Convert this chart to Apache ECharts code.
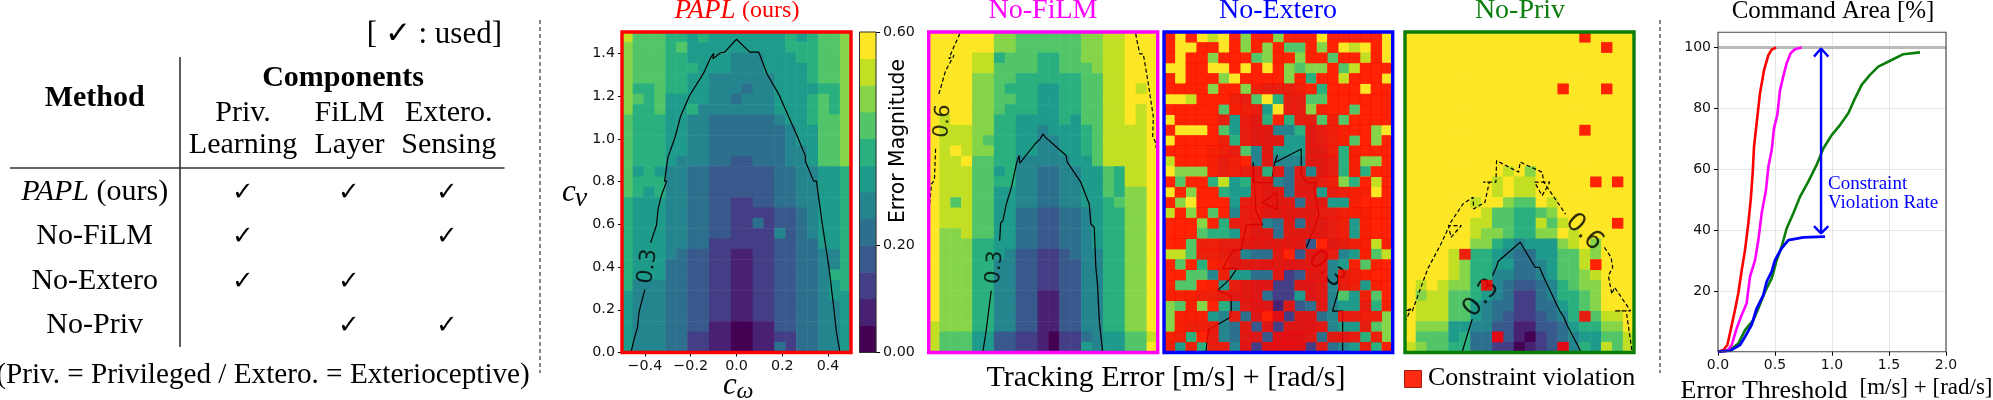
<!DOCTYPE html>
<html><head><meta charset="utf-8">
<script src="https://cdn.jsdelivr.net/npm/echarts@6/dist/echarts.min.js"></script>
<style>html,body{margin:0;padding:0;background:#fff}#c{width:1993px;height:400px}</style>
</head><body><div id="c"></div>
<script>
// Table content
const methodRows = ['PAPL', 'No-FiLM', 'No-Extero', 'No-Priv'];
const usedPriv  = [1, 1, 1, 0];
const usedFilm  = [1, 0, 1, 1];
const usedExt   = [1, 1, 0, 1];
// Colour levels of the 12-step colour bar
const levelColors = ['#440154','#482173','#433e85','#38598c','#2d708e','#25858e','#1e9b8a','#2ab07f','#52c569','#86d549','#c2df23','#fde725'];
// Heat map rows, top row first. 0-9,a,b = colour level; A..L = same level (A=0 .. L=11) with a constraint violation.
const papl = [
'a 8 8 8 7 7 6 7 6 6 6 6 6 6 6 7 6 7 8 8 9',
'9 8 8 8 7 8 6 6 6 6 6 6 6 6 6 7 7 7 8 8 9',
'9 8 8 8 7 7 6 6 6 6 5 5 5 6 6 6 7 7 8 8 9',
'9 8 8 8 7 7 7 6 6 6 5 5 5 6 6 6 6 7 8 8 9',
'9 8 8 8 7 7 6 6 5 5 5 5 5 5 6 6 6 7 8 8 9',
'9 7 7 8 7 7 6 6 5 5 5 4 5 5 6 6 6 6 7 7 9',
'9 8 7 8 6 6 6 6 5 5 4 5 5 5 6 6 6 7 8 7 9',
'9 7 7 8 6 6 7 5 5 5 5 5 5 5 6 6 6 7 8 7 9',
'8 7 7 7 6 6 5 5 4 4 4 4 4 4 5 6 6 7 8 8 9',
'8 7 7 7 6 6 5 5 4 4 4 4 4 4 4 5 6 6 8 8 9',
'8 7 7 7 6 6 5 5 4 4 4 4 4 4 4 5 6 6 8 8 9',
'8 7 7 7 6 6 5 5 4 4 4 4 4 4 4 5 5 6 8 8 9',
'8 7 7 7 6 5 5 5 4 4 3 3 4 4 4 5 5 6 8 8 9',
'8 6 7 6 5 5 4 4 3 3 3 3 3 3 4 4 5 5 6 6 7',
'8 7 7 7 5 5 4 4 3 3 3 3 3 3 4 4 5 5 6 6 7',
'8 7 6 7 5 5 4 4 3 3 3 3 3 3 4 4 5 5 6 6 7',
'7 6 6 6 5 5 4 4 3 3 2 2 3 3 4 4 5 5 6 6 7',
'7 6 6 6 5 5 4 4 3 3 2 2 2 2 3 3 4 5 6 6 7',
'7 6 6 6 5 5 4 4 3 3 2 2 4 2 3 3 4 5 6 6 7',
'7 6 6 6 5 5 4 4 3 3 2 2 2 2 5 3 4 5 6 6 7',
'7 6 6 6 5 5 4 4 2 2 2 2 2 2 3 3 4 4 6 6 7',
'7 6 6 6 5 4 3 3 2 2 1 1 2 2 3 3 4 4 5 5 7',
'7 6 6 6 4 4 3 3 2 2 1 1 2 2 3 3 4 4 5 5 7',
'7 6 6 6 4 4 3 3 2 2 1 1 2 2 3 3 4 4 5 7 7',
'7 5 5 5 4 4 3 3 2 2 1 1 2 2 3 3 4 4 5 6 7',
'6 5 5 5 4 4 3 3 2 2 1 1 2 2 3 3 4 4 5 6 6',
'6 5 5 5 4 4 3 3 2 2 1 1 2 2 3 3 4 4 5 5 6',
'6 5 5 5 4 4 3 3 2 2 1 1 2 2 3 3 4 4 5 5 6',
'6 5 5 5 4 4 3 3 1 1 0 0 1 1 3 3 4 4 5 5 6',
'6 5 5 5 4 4 2 2 1 1 0 0 1 1 2 2 4 4 5 5 6',
'6 5 5 5 4 4 2 2 1 1 0 0 1 1 4 2 4 4 5 5 6'];
const noFilm = [
'b b b b b b 9 9 8 8 8 8 8 8 9 9 a a b b b',
'b b b b b b 9 9 8 8 8 8 8 8 9 9 a a b b b',
'b b b b a a 7 8 8 8 7 7 8 8 9 9 a a b b b',
'b b b b a a 8 8 8 8 7 7 8 8 8 9 a a b b b',
'b b b b 9 9 8 8 7 7 7 7 7 7 8 8 a a b b b',
'b b b b 9 9 8 7 7 7 6 6 7 7 8 8 a a b a b',
'b b b b 9 9 8 8 7 7 6 6 7 7 8 8 a a b b b',
'b b b b 9 9 8 7 7 7 6 6 7 7 8 8 a a b a b',
'b a b b 9 9 7 7 6 6 6 6 7 6 8 8 a a b a b',
'b a a a 9 9 7 7 6 6 5 6 6 6 7 8 a a a a b',
'b a a a 9 8 7 7 6 6 5 5 6 6 7 8 a a a a b',
'b a b a 9 9 7 7 6 6 5 5 6 6 7 8 a a a a b',
'b a a b 8 8 7 7 5 5 5 5 5 6 6 8 a a a a b',
'b a a a 8 8 6 7 5 5 4 4 5 5 6 6 8 7 a a b',
'b a a a 8 8 7 7 5 5 4 4 5 5 6 6 8 7 a a b',
'b a a a 8 8 6 6 5 5 4 4 5 5 6 6 8 7 9 9 b',
'b a 8 a 8 8 6 6 5 5 4 4 5 5 6 6 7 8 9 9 b',
'b a a a 8 8 6 6 4 4 3 3 4 4 5 6 7 7 9 9 b',
'b a a a 8 8 6 6 4 4 3 3 4 4 5 6 7 7 9 9 b',
'b 9 9 a 8 8 6 6 4 4 3 3 4 4 5 6 7 7 9 9 b',
'b 9 9 9 7 7 6 6 4 4 3 3 4 4 5 6 7 7 9 9 b',
'b 9 9 9 7 7 6 5 3 3 2 2 3 4 5 5 7 7 9 9 b',
'b 9 9 9 7 7 5 5 3 3 2 2 3 3 5 5 7 7 9 9 b',
'b 9 9 9 7 7 5 5 3 3 2 2 3 3 5 5 7 7 9 9 b',
'b 9 9 9 7 7 5 5 3 3 2 2 3 3 5 5 7 7 9 9 b',
'b 9 9 9 7 7 5 5 3 3 1 1 3 3 5 5 7 7 9 9 b',
'b 9 9 9 7 7 5 5 3 3 1 1 3 3 5 5 7 7 9 9 b',
'b 9 9 9 7 7 5 5 3 3 1 1 3 3 5 5 7 7 9 9 b',
'a 9 9 9 7 7 5 5 3 3 1 1 3 3 5 5 7 7 9 9 b',
'a 8 8 8 6 6 3 3 2 2 1 0 2 2 4 5 6 6 8 8 a',
'a 8 8 8 6 6 3 3 2 2 1 0 2 2 6 5 6 6 8 8 b'];
const noExtero = [
'L b L b a b L 9 L L 9 L L L b L L L L L b',
'L b b L L b L 9 L 9 L 8 8 L 9 L b a b L b',
'L b L L 9 L L L 8 9 L L 9 L L 8 L L a L b',
'b b L L b b L b L b L 9 8 9 9 L 8 a L L L',
'L b L L L 9 b L L L L 9 K 7 L L a L L L b',
'L L L L 9 L L 9 J I I I J L 7 L L L b L L',
'b b a L L L J I 8 b 7 I I 8 8 L L L L L L',
'L L L L L 8 K J I 6 b I I 9 K L L 8 L L L',
'b L L L L I 6 I H 7 L 7 I I 8 J 8 L L L L',
'L b b b L 8 6 I H H 5 5 7 H I J K L L 9 b',
'b L L L L J 7 I H H H 6 6 H I J K 8 L 9 L',
'L L L L K J I 8 5 H 6 6 6 H H J 7 K L L L',
'a L L L K I J L 5 H 5 5 5 H H I 7 K 9 9 L',
'b 9 9 9 K I J I H 7 H 4 H 5 H I 7 K 7 L L',
'L 8 L L 7 a 6 7 I H 5 4 H H I J 9 7 L a L',
'b L 9 L L 7 6 6 I H H 4 H H 6 I J K K b L',
'L 9 b L L L 6 I I H H H 4 H H 6 6 K L L L',
'a L 9 L 8 L 5 I I H H H H H I I J K K L L',
'L L L 9 L 7 I I H 5 4 H 4 H H I J 6 K L L',
'L L L 8 7 7 6 I H H 4 H H H H I J 6 K L L',
'L L 8 J J I I H H H H H H 3 L H I J K a K',
'a a 8 J J I H 5 4 4 H L 3 H H I 5 6 K 8 a',
'L 8 L 7 K J H H H G H G G H H 5 6 K 8 K L',
'L L 8 8 5 J 6 6 4 4 H 2 3 H H 5 I J K L L',
'L 8 8 L K 6 I H G G 2 2 G G H 5 I J 6 K L',
'K K K J J I H H G 4 2 2 6 G H 5 8 6 J 8 L',
'9 8 K 9 L 7 5 H G G 1 G 3 4 H 5 6 6 I 7 K',
'9 K K K 6 5 I 4 G L E 2 G G 4 5 I I J J 9',
'9 K J J I 5 4 H 3 G 2 G G G H 5 6 6 I 8 9',
'K J 7 L I 5 4 H G 3 E E E H 4 H H I 7 J 9',
'J 6 J 7 I I 5 G 2 E E E E 2 H 4 5 6 I 7 K'];
const noPriv = [
'b b b b b b b b b b b b b b b b L b b b b',
'b b b b b b b b b b b b b b b b b b L b b',
'b b b b b b b b b b b b b b b b b b b b b',
'b b b b b b b b b b b b b b b b b b b b b',
'b b b b b b b b b b b b b b b b b b b b b',
'b b b b b b b b b b b b b b L b b b L b b',
'b b b b b b b b b b b b b b b b b b b b b',
'b b b b b b b b b b b b b b b b b b b b b',
'b b b b b b b b b b b b b b b b b b b b b',
'b b b b b b b b b b b b b b b b L b b b b',
'b b b b b b b b b b b b b b b b b b b b b',
'b b b b b b b b b b b b b b b b b b b b b',
'b b b b b b b b b b b b b b b b b b b b b',
'b b b b b b b b b a b 9 b b b b b b b b b',
'b b b b b b b b a b a a b b b b b L b L b',
'b b b b b b b b a b a a b b b b b b b b b',
'b b b b b b a b b 9 8 8 b a b b b b b b b',
'b b b b b b b a 8 8 7 7 8 9 b b b b b b b',
'b b b b b b a a 8 8 7 7 a 8 a b b b b L b',
'b b b b b b a 9 9 8 7 7 9 9 b a b b b b b',
'b b b b b b 9 9 7 6 5 6 6 6 9 a b 9 b b b',
'b b b b a J 7 7 6 5 4 4 6 6 8 8 a 9 b b b',
'b b b b a 9 7 7 6 6 4 4 5 6 8 8 a L b b b',
'b b b b a 9 7 7 5 5 4 4 5 6 8 8 9 a b b b',
'b a b a 9 9 7 H 5 4 3 3 4 5 7 8 9 9 b b b',
'b 9 a a 8 8 7 6 5 4 2 2 4 5 7 7 8 9 b b b',
'b a a a 8 8 6 5 4 4 2 2 4 4 6 7 8 9 b b b',
'b a a a 8 8 6 5 4 3 2 2 3 4 5 7 I 8 a a b',
'b 9 9 9 6 6 5 5 3 3 1 1 3 3 4 6 7 7 9 9 b',
'b 8 8 8 6 7 4 4 C 3 1 0 2 3 4 5 6 6 8 8 a',
'a 9 8 8 7 7 4 4 2 2 0 1 2 3 C 5 7 6 a 8 a'];
// Contours in data coordinates [c_omega, c_v]
const paplC03a = [[-0.461,0],[-0.444,0.075],[-0.433,0.114],[-0.425,0.192],[-0.412,0.247],[-0.400,0.294]];
const paplC03b = [[-0.375,0.513],[-0.349,0.598],[-0.343,0.669],[-0.329,0.731],[-0.305,0.802],[-0.314,0.802],[-0.300,0.911],[-0.295,0.927],[-0.269,1.005],[-0.244,1.106],[-0.205,1.203],[-0.143,1.309],[-0.113,1.380],[-0.099,1.400],[-0.103,1.375],[-0.070,1.403],[-0.052,1.406],[0,1.466],[0.058,1.406],[0.097,1.406],[0.134,1.302],[0.185,1.208],[0.265,1.013],[0.301,0.919],[0.294,0.927],[0.301,0.895],[0.337,0.802],[0.349,0.802],[0.374,0.606],[0.403,0.403],[0.425,0.208],[0.436,0.098],[0.452,0]];
const filmC03a = [[-0.264,0],[-0.249,0.102],[-0.227,0.289]];
const filmC03b = [[-0.190,0.523],[-0.186,0.606],[-0.176,0.617],[-0.161,0.695],[-0.139,0.773],[-0.117,0.883],[-0.105,0.922],[-0.102,0.886],[-0.035,0.977],[-0.013,1.0],[-0.001,1.023],[0.009,1.008],[0.016,1.016],[0.100,0.922],[0.105,0.891],[0.164,0.797],[0.201,0.695],[0.208,0.602],[0.223,0.586],[0.230,0.398],[0.237,0.320],[0.245,0.148],[0.260,0]];
const filmC06a = [[-0.364,1.492],[-0.397,1.414],[-0.412,1.375],[-0.389,1.391],[-0.426,1.320],[-0.453,1.219],[-0.459,1.198]];
const filmC06b = [[-0.470,0.953],[-0.475,0.805],[-0.488,0.789],[-0.5,0.641]];
const filmC06c = [[0.404,1.492],[0.412,1.445],[0.422,1.398],[0.437,1.398],[0.459,1.258],[0.481,1.102],[0.478,1.008],[0.488,0.992],[0.5,0.922]];
const extC03a = [[-0.317,0],[-0.305,0.108],[-0.265,0.131],[-0.213,0.163],[-0.206,0.194],[-0.206,0.264],[-0.265,0.292],[-0.213,0.342],[-0.181,0.394],[-0.243,0.394],[-0.221,0.436],[-0.196,0.478],[-0.162,0.483],[-0.140,0.597],[-0.103,0.600],[-0.069,0.597],[-0.098,0.663],[-0.110,0.889],[-0.110,0.795],[-0.029,0.795],[-0.018,0.881],[-0.004,0.925],[-0.014,0.889],[0.100,0.952],[0.100,0.834],[0.122,0.795],[0.166,0.795],[0.156,0.772],[0.178,0.647],[0.156,0.577],[0.122,0.491]];
const extC03b = [[0.270,0.319],[0.237,0.194],[0.281,0.194],[0.281,0]];
const extC03c = [[-0.073,0.702],[-0.007,0.748],[-0.004,0.670],[-0.073,0.702]];
const privC03a = [[-0.251,0],[-0.218,0.117],[-0.206,0.156]];
const privC03b = [[-0.118,0.359],[-0.100,0.402],[-0.093,0.427],[0.003,0.516],[0.069,0.398],[0.088,0.398],[0.106,0.352],[0.165,0.219],[0.176,0.195],[0.194,0.164],[0.209,0.125],[0.268,0.005]];
const privC06a = [[-0.5,0.141],[-0.475,0.203],[-0.497,0.198],[-0.468,0.195],[-0.401,0.391],[-0.343,0.508],[-0.306,0.594],[-0.254,0.594],[-0.299,0.539],[-0.310,0.594],[-0.247,0.695],[-0.203,0.727],[-0.200,0.672],[-0.151,0.703],[-0.132,0.797],[-0.159,0.797],[-0.103,0.797],[-0.100,0.898],[-0.004,0.844],[0.003,0.891],[0.099,0.844],[0.106,0.797],[0.066,0.797],[0.099,0.734],[0.132,0.797],[0.106,0.797],[0.201,0.648]];
const privC06b = [[0.371,0.492],[0.400,0.445],[0.407,0.398],[0.388,0.359],[0.403,0.273],[0.415,0.305],[0.485,0.195],[0.415,0.195],[0.466,0.195],[0.491,0.008]];
// Curves of the right-hand plot: [error threshold, command area %]
const curvePapl = [[0,0],[0.047,0.55],[0.082,2.2],[0.111,7.1],[0.149,13.7],[0.178,19.2],[0.208,26.8],[0.237,33.4],[0.266,42.2],[0.287,49.9],[0.304,58.6],[0.316,67.4],[0.339,75.1],[0.368,84.9],[0.404,92.6],[0.442,97.5],[0.471,99.3],[0.509,100]];
const curveFilm = [[0,0],[0.082,0.33],[0.120,2.2],[0.164,7.7],[0.208,12.1],[0.251,15.9],[0.281,24.7],[0.325,30.1],[0.354,36.7],[0.383,45.5],[0.421,53.2],[0.442,60.8],[0.471,66.3],[0.491,73.4],[0.520,77.8],[0.544,86],[0.579,91.5],[0.602,94.8],[0.637,98.1],[0.675,99.4],[0.734,100]];
const curvePriv = [[0,0],[0.105,0.55],[0.178,2.7],[0.237,7.1],[0.310,10.4],[0.354,14.2],[0.412,19.7],[0.471,24.1],[0.515,30.1],[0.558,34.5],[0.602,40.5],[0.661,45.5],[0.719,50.9],[0.792,55.9],[0.865,61.4],[0.924,66.8],[0.997,71.2],[1.070,74.5],[1.143,78.4],[1.202,83.3],[1.260,87.7],[1.333,91],[1.406,93.7],[1.523,95.9],[1.626,97.8],[1.772,98.4]];
const curveExt = [[0,0],[0.105,0.33],[0.193,2.2],[0.237,4.9],[0.295,8.8],[0.339,14.2],[0.398,18.6],[0.427,23],[0.471,26.3],[0.5,30.1],[0.558,34],[0.617,36.7],[0.749,37.6],[0.939,37.8]];
const fullLine = [[0,100],[2,100]];
const gapArrow = [[0.842,97],[0.904,99.7],[0.968,97],null,[0.904,99.7],[0.904,38.9],null,[0.842,41.3],[0.904,38.9],[0.968,41.3]];
const xTicks = [-0.4,-0.2,0,0.2,0.4];
const yTicks = [0,0.2,0.4,0.6,0.8,1.0,1.2,1.4];
const cbarTicks = [0,0.2,0.6];
const areaTicks = [20,40,60,80,100];

const SERIF = "'Liberation Serif'", SANS = "'DejaVu Sans'";
const chart = echarts.init(document.getElementById('c'), null, {renderer:'canvas'});

const panels = [
 {rows:papl, left:622, right:851, top:32, bottom:352.5, color:'#ff0000', labelled:true},
 {rows:noFilm, left:928.7, right:1157.7, top:32, bottom:352.5, color:'#ff00ff'},
 {rows:noExtero, left:1164, right:1392.7, top:32, bottom:352.5, color:'#0000ff'},
 {rows:noPriv, left:1405, right:1634, top:32, bottom:352.5, color:'#0a7d0a'}
];
const contours = [
 {solid:[paplC03a,paplC03b], dashed:[], labels:[[-0.387,0.403,'0.3',82,22]]},
 {solid:[filmC03a,filmC03b], dashed:[filmC06a,filmC06b,filmC06c], labels:[[-0.212,0.398,'0.3',85,21],[-0.438,1.083,'0.6',85,21]]},
 {solid:[extC03a,extC03b,extC03c], dashed:[], labels:[[0.208,0.389,'0.3',-46,26]]},
 {solid:[privC03a,privC03b], dashed:[privC06a,privC06b], labels:[[-0.166,0.253,'0.3',50,26],[0.282,0.563,'0.6',-44,26]]}
];
const CODES = '0123456789ab', RED = 'ABCDEFGHIJKL';
const grids=[], xAxes=[], yAxes=[], series=[];
const mid = l => (l+0.5)*0.05;
const fmt = v => v.toFixed(1).replace('-','\u2212');
const cols = Array.from({length:21},(_,i)=>i), rowsIdx = Array.from({length:31},(_,i)=>i);

panels.forEach((p,i)=>{
  grids.push({show:true, z:6, left:p.left, top:p.top, width:p.right-p.left, height:p.bottom-p.top, borderColor:p.color, borderWidth:3.4, backgroundColor:'transparent'});
  const xc = xAxes.length, yc = yAxes.length;
  xAxes.push({type:'category', gridIndex:i, position:'top', data:cols, show:false});
  yAxes.push({type:'category', gridIndex:i, position:'right', data:rowsIdx, inverse:true, show:false});
  xAxes.push({type:'value', gridIndex:i, position:'bottom', min:-0.5, max:0.5, show:!!p.labelled, splitLine:{show:false}, axisLine:{show:false},
    axisTick:{show:true,length:4,customValues:xTicks,lineStyle:{color:'#000'}},
    axisLabel:{customValues:xTicks,formatter:fmt,fontFamily:SANS,fontSize:14.3,color:'#111',margin:7}});
  yAxes.push({type:'value', gridIndex:i, position:'left', min:0, max:1.5, show:!!p.labelled, splitLine:{show:false}, axisLine:{show:false},
    axisTick:{show:true,length:4,customValues:yTicks,lineStyle:{color:'#000'}},
    axisLabel:{customValues:yTicks,formatter:v=>v.toFixed(1),fontFamily:SANS,fontSize:14.3,color:'#111',margin:7}});
  const heat=[], red=[];
  p.rows.forEach((row,r)=>row.split(' ').forEach((ch,c)=>{
    let l = CODES.indexOf(ch);
    if(l<0){ l = RED.indexOf(ch); red.push([c,r,mid(l)]); }
    heat.push([c,r,mid(l)]);
  }));
  series.push({type:'heatmap', xAxisIndex:xc, yAxisIndex:yc, data:heat, z:1, animation:false, progressive:0});
  const C = contours[i];
  const ln = (d,dash)=>series.push({type:'line', xAxisIndex:xc+1, yAxisIndex:yc+1, data:d, showSymbol:false, symbol:'none', z:2, clip:true, animation:false,
     lineStyle:{color:'#000',width:1.2,type:dash?[4,2.5]:'solid'}});
  C.solid.forEach(d=>ln(d,false)); C.dashed.forEach(d=>ln(d,true));
  C.labels.forEach(L=>series.push({type:'scatter', xAxisIndex:xc+1, yAxisIndex:yc+1, data:[[L[0],L[1]]], symbolSize:0, z:2, animation:false, silent:true,
     label:{show:true,position:'inside',formatter:L[2],rotate:L[3],fontFamily:SANS,fontSize:L[4],color:'#000'}}));
  if(red.length) series.push({type:'heatmap', xAxisIndex:xc, yAxisIndex:yc, data:red, z:3, animation:false, progressive:0,
     itemStyle:{color:'#ff0000',opacity:0.85}, colorBy:'series'});
});
const heatIdx = series.map((s,i)=> (s.type==='heatmap' && !s.itemStyle) ? i : -1).filter(i=>i>=0);

// Colour bar
const gi = grids.length;
grids.push({show:true, z:6, left:859.5, top:32, width:16.5, height:320.5, borderColor:'#333', borderWidth:1, backgroundColor:'transparent'});
const cbx = xAxes.length, cby = yAxes.length;
xAxes.push({type:'category', gridIndex:gi, data:[0], show:false});
yAxes.push({type:'category', gridIndex:gi, position:'left', data:levelColors.map((_,i)=>i), show:false});
yAxes.push({type:'value', gridIndex:gi, position:'right', min:0, max:0.6, splitLine:{show:false}, axisLine:{show:false},
  axisTick:{show:true,length:4,customValues:cbarTicks,lineStyle:{color:'#000'}},
  axisLabel:{customValues:cbarTicks,formatter:v=>v.toFixed(2),fontFamily:SANS,fontSize:14.3,color:'#111',margin:7}});
series.push({type:'heatmap', xAxisIndex:cbx, yAxisIndex:cby, data:levelColors.map((_,i)=>[0,i,mid(i)]), z:1, animation:false});
heatIdx.push(series.length-1);

// Command-area plot
const gl = grids.length;
grids.push({show:true, z:6, left:1718, top:32.3, width:228, height:319.4, borderColor:'#444', borderWidth:1.1, backgroundColor:'transparent'});
const lx = xAxes.length, ly = yAxes.length;
xAxes.push({type:'value', gridIndex:gl, min:0, max:2, interval:0.5, axisLine:{show:false},
  splitLine:{show:true,lineStyle:{color:'#e6e6e6',width:1}},
  axisTick:{show:true,length:4,lineStyle:{color:'#000'}},
  axisLabel:{formatter:v=>v.toFixed(1),fontFamily:SANS,fontSize:14,color:'#111',margin:7,hideOverlap:false,showMinLabel:true,showMaxLabel:true}});
yAxes.push({type:'value', gridIndex:gl, min:0, max:105, interval:20, axisLine:{show:false},
  splitLine:{show:true,lineStyle:{color:'#e6e6e6',width:1}},
  axisTick:{show:true,length:4,customValues:areaTicks,lineStyle:{color:'#000'}},
  axisLabel:{customValues:areaTicks,fontFamily:SANS,fontSize:14,color:'#111',margin:7}});
const cl=(d,c,w,z)=>series.push({type:'line', xAxisIndex:lx, yAxisIndex:ly, data:d, showSymbol:false, symbol:'none', z:z||3, animation:false, connectNulls:false, lineStyle:{color:c,width:w}});
cl(fullLine,'#bbbbbb',3,2);
cl(curvePriv,'#0a7d0a',2.6);
cl(curvePapl,'#ff0000',2.6);
cl(curveFilm,'#ff00ff',2.6);
cl(curveExt,'#0000ff',2.8);
cl(gapArrow,'#0000ff',2.4);

// Text, table and annotation layer
const g=[];
const T=(text,x,y,size,o={})=>g.push({type:'text',x,y,rotation:o.rot||0,z:20,silent:true,style:{text,font:`${o.style||''} ${o.weight||''} ${size}px ${o.fam||SERIF}`,fill:o.fill||'#000',align:o.align||'center',verticalAlign:'middle',rich:o.rich}});
const L=(x1,y1,x2,y2,w,c,dash)=>g.push({type:'line',z:20,silent:true,shape:{x1,y1,x2,y2},style:{stroke:c,lineWidth:w,lineDash:dash}});
T('[ \u2713 : used]',502,35,31,{align:'right'});
T('Method',94.7,98,30,{weight:'bold'});
T('Components',343,78,30,{weight:'bold'});
[['Priv.','Learning',243],['FiLM','Layer',349.5],['Extero.','Sensing',448.7]].forEach(h=>{T(h[0],h[2],113,30);T(h[1],h[2],145,30);});
L(180,57,180,347,1.6,'#333');
L(10,168,504.5,168,1.6,'#333');
const rowY=[192,236,281,325];
methodRows.forEach((m,i)=>{
  if(i===0) T('{a|PAPL} {b|(ours)}',94.7,rowY[i],30,{rich:{a:{font:`italic 30px ${SERIF}`,fill:'#000'},b:{font:`30px ${SERIF}`,fill:'#000'}}});
  else T(m,94.7,rowY[i],30);
  [[usedPriv,243],[usedFilm,349],[usedExt,447]].forEach(u=>{ if(u[0][i]) T('\u2713',u[1],rowY[i]+1,26,{fam:SANS}); });
});
T('(Priv. = Privileged / Extero. = Exterioceptive)',263,375,29.2);
L(540,20,540,373,1.2,'#333',[4,3]);
L(1660,20,1660,373,1.2,'#333',[4,3]);
T('{a|PAPL} {b|(ours)}',737,11,26,{rich:{a:{font:`italic 27px ${SERIF}`,fill:'#ff0000'},b:{font:`24px ${SERIF}`,fill:'#ff0000'}}});
T('No-FiLM',1043,11,28,{fill:'#ff00ff'});
T('No-Extero',1278,11,28,{fill:'#0000ff'});
T('No-Priv',1520,11,28,{fill:'#0a7d0a'});
T('c',569,193,31,{style:'italic'}); T('v',581,199,28,{style:'italic'});
T('c',730,386,31,{style:'italic'}); T('\u03c9',745,392,24,{style:'italic'});
T('Error Magnitude',899,141,20.4,{fam:SANS,rot:Math.PI/2});
T('Tracking Error [m/s] + [rad/s]',1166,378,30);
g.push({type:'rect',z:20,silent:true,shape:{x:1404.5,y:370.5,width:17,height:17},style:{fill:'#ff2a12',stroke:'#a02010',lineWidth:1}});
T('Constraint violation',1428,378,26,{align:'left'});
T('Command Area [%]',1833,11,25);
T('Error Threshold',1764,391,26);
T('[m/s] + [rad/s]',1926,388,23);
T('Constraint',1828,184,19,{fill:'#0000ff',align:'left'});
T('Violation Rate',1828,203,19,{fill:'#0000ff',align:'left'});

chart.setOption({
  animation:false,
  backgroundColor:'#fff',
  grid:grids, xAxis:xAxes, yAxis:yAxes,
  visualMap:{type:'piecewise', show:false, seriesIndex:heatIdx, dimension:2,
    pieces:levelColors.map((c,i)=>({min:i*0.05,max:(i+1)*0.05,color:c}))},
  graphic:g,
  series
});
</script></body></html>
